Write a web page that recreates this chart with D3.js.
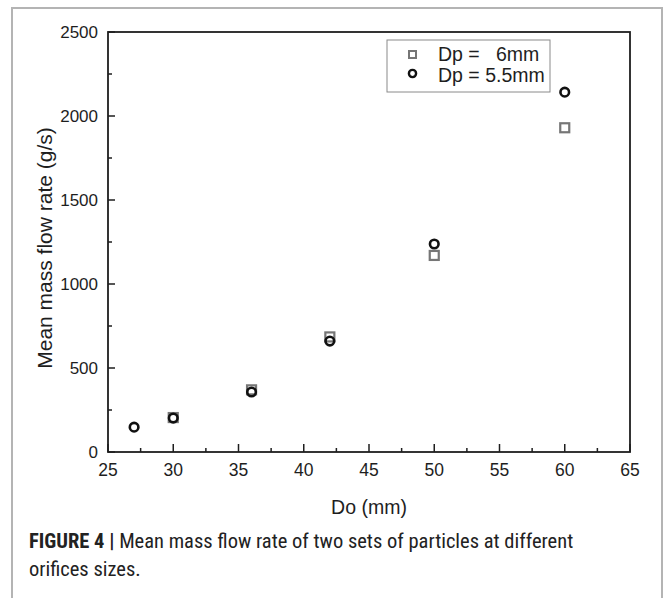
<!DOCTYPE html>
<html><head><meta charset="utf-8">
<script src="https://cdn.jsdelivr.net/npm/d3@7/dist/d3.min.js"></script>
<style>
body{margin:0;background:#fff;}
svg{display:block;}
</style></head>
<body><svg id="c" width="663" height="598"></svg>
<script>
const xTicks = [25,30,35,40,45,50,55,60,65];
const yTicks = [0,500,1000,1500,2000,2500];
const do6 = [30,36,42,50,60];
const flow6 = [205,370,685,1170,1930];
const do55 = [27,30,36,42,50,60];
const flow55 = [148,202,357,660,1238,2142];
const legendLabels = ["Dp =   6mm","Dp = 5.5mm"];
const xTitle = "Do (mm)";
const yTitle = "Mean mass flow rate (g/s)";

const svg = d3.select("#c");
// figure frame
svg.append("rect").attr("x",12).attr("y",8).attr("width",650).attr("height",600)
  .attr("fill","none").attr("stroke","#b4b4b4").attr("stroke-width",2);

const L=108,R=630,T=32,B=452;
const x = d3.scaleLinear().domain([25,65]).range([L,R]);
const y = d3.scaleLinear().domain([0,2500]).range([B,T]);
const font = "'Liberation Sans', Arial, sans-serif";
const ink = "#1e1e1e";

// ticks (inward)
const xMinor = d3.range(27.5,65,5);
const yMinor = d3.range(250,2500,500);
const g = svg.append("g");
g.selectAll(".xmin").data(xMinor).join("line")
  .attr("x1",d=>x(d)).attr("x2",d=>x(d)).attr("y1",B).attr("y2",B-4)
  .attr("stroke",ink).attr("stroke-width",1.5);
g.selectAll(".xmaj").data(xTicks).join("line")
  .attr("x1",d=>x(d)).attr("x2",d=>x(d)).attr("y1",B).attr("y2",B-8)
  .attr("stroke",ink).attr("stroke-width",1.5);
g.selectAll(".ymin").data(yMinor).join("line")
  .attr("x1",L).attr("x2",L+4).attr("y1",d=>y(d)).attr("y2",d=>y(d))
  .attr("stroke",ink).attr("stroke-width",1.5);
g.selectAll(".ymaj").data(yTicks).join("line")
  .attr("x1",L).attr("x2",L+7).attr("y1",d=>y(d)).attr("y2",d=>y(d))
  .attr("stroke",ink).attr("stroke-width",1.5);

// plot frame
svg.append("rect").attr("x",L).attr("y",T).attr("width",R-L).attr("height",B-T)
  .attr("fill","none").attr("stroke",ink).attr("stroke-width",1.8);

// tick labels
svg.selectAll(".xl").data(xTicks).join("text")
  .attr("x",d=>x(d)).attr("y",B+24).attr("text-anchor","middle")
  .attr("font-family",font).attr("font-size",17.5).attr("fill",ink).text(d=>d);
svg.selectAll(".yl").data(yTicks).join("text")
  .attr("x",L-10).attr("y",d=>y(d)+6).attr("text-anchor","end")
  .attr("font-family",font).attr("font-size",17).attr("fill",ink).text(d=>d);

// titles
svg.append("text").attr("x",(L+R)/2).attr("y",514).attr("text-anchor","middle")
  .attr("font-family",font).attr("font-size",19.5).attr("fill",ink).text(xTitle);
svg.append("text").attr("transform",`translate(52,${(T+B)/2+6}) rotate(-90)`)
  .attr("text-anchor","middle")
  .attr("font-family",font).attr("font-size",21).attr("fill",ink).text(yTitle);

// data
const d6 = do6.map((d,i)=>({x:d,y:flow6[i]}));
const d55 = do55.map((d,i)=>({x:d,y:flow55[i]}));
svg.selectAll(".sq").data(d6).join("rect")
  .attr("x",d=>x(d.x)-4.5).attr("y",d=>y(d.y)-4.5).attr("width",9).attr("height",9)
  .attr("fill","#fff").attr("stroke","#767676").attr("stroke-width",2.2);
svg.selectAll(".ci").data(d55).join("circle")
  .attr("cx",d=>x(d.x)).attr("cy",d=>y(d.y)).attr("r",4.3)
  .attr("fill","none").attr("stroke","#111").attr("stroke-width",2.6);

// legend
const lg = svg.append("g");
lg.append("rect").attr("x",387).attr("y",40).attr("width",163).attr("height",52)
  .attr("fill","#fff").attr("stroke","#8a8a8a").attr("stroke-width",1);
lg.append("rect").attr("x",409).attr("y",51).attr("width",7).attr("height",7)
  .attr("fill","#fff").attr("stroke","#767676").attr("stroke-width",2);
lg.append("circle").attr("cx",412.5).attr("cy",73.5).attr("r",3.6)
  .attr("fill","none").attr("stroke","#111").attr("stroke-width",2.4);
lg.selectAll(".lt").data(legendLabels).join("text")
  .attr("x",438).attr("y",(d,i)=>61+i*20.5)
  .attr("font-family",font).attr("font-size",19.5).attr("fill",ink)
  .style("white-space","pre").text(d=>d);

// caption
const capFont = "'Liberation Sans Narrow', 'Roboto Condensed', 'Liberation Sans', sans-serif";
const cap = svg.append("text").attr("x",29).attr("y",548)
  .attr("font-family",capFont).attr("font-size",20.5).attr("fill","#222");
cap.append("tspan").attr("font-weight","bold").text("FIGURE 4 | ");
cap.append("tspan").text("Mean mass flow rate of two sets of particles at different");
svg.append("text").attr("x",29).attr("y",576)
  .attr("font-family",capFont).attr("font-size",20.5).attr("fill","#222").text("orifices sizes.");
</script></body></html>
